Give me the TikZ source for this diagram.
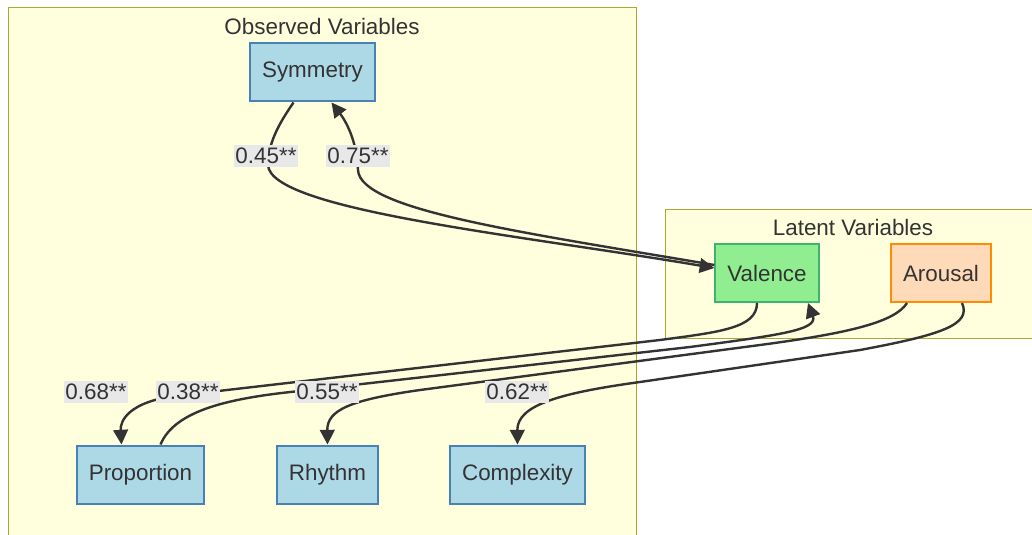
\documentclass[tikz,border=0pt]{standalone}
\usepackage{fontspec}
\setmainfont{Liberation Sans}
\usetikzlibrary{calc,arrows.meta}
\definecolor{ink}{HTML}{333333}
\definecolor{clusterfill}{HTML}{FFFFDE}
\definecolor{clusterline}{HTML}{AAAA33}
\definecolor{obsfill}{HTML}{ADD8E6}
\definecolor{obsline}{HTML}{4682B4}
\definecolor{valfill}{HTML}{90EE90}
\definecolor{valline}{HTML}{3CB371}
\definecolor{arofill}{HTML}{FFDAB9}
\definecolor{aroline}{HTML}{FF8C00}
\definecolor{labelfill}{HTML}{E8E8E8}
\begin{document}
\begin{tikzpicture}[
  x=0.75pt, y=-0.75pt,
  every node/.style={text=ink, font=\fontsize{16.8}{20}\selectfont},
  var/.style={draw, line width=1.5pt, inner xsep=9pt, minimum height=43.5pt},
  observed/.style={var, draw=obsline, fill=obsfill},
  cluster/.style={draw=clusterline, fill=clusterfill, line width=0.75pt},
  edge/.style={draw=ink, line width=1.8pt, -{Triangle[length=11pt,width=11pt]}},
  weight/.style={fill=labelfill, inner xsep=1pt, inner ysep=2pt}
  ]
\useasboundingbox (0,0) rectangle (1032,535);

% clusters
\path[cluster] (8,8) rectangle (636,545);
\node (obstitle) at (322,26) {Observed Variables};
\path[cluster] (665,209) rectangle (1045,338);
\node (lattitle) at (853,227) {Latent Variables};

% variables
\node[observed] (sym) at (312.5,72.5) {Symmetry};
\node[observed] (prop) at (140.5,474.5) {Proportion};
\node[observed] (rhy) at (327.5,474.5) {Rhythm};
\node[observed] (cplx) at (517.5,474.5) {Complexity};
\node[var, draw=valline, fill=valfill] (val) at (767,273) {Valence};
\node[var, draw=aroline, fill=arofill] (aro) at (941,273) {Arousal};

% paths
\draw[edge] ($(sym.south)+(-19,0)$) .. controls (283,118) and (268,140) .. (268,165)
  .. controls (270,210) and (520,235) .. ($(val.west)+(0,-5)$);
\draw[edge] ($(val.west)+(0,-8)$) .. controls (520,232) and (360,210) .. (358,170)
  .. controls (357,140) and (345,120) .. ($(sym.south)+(19,0)$);
\draw[edge] ($(val.south)+(-10,0)$) .. controls (757,328) and (720,332) .. (660,340)
  -- (175,396) .. controls (130,402) and (120,420) .. ($(prop.north)+(-19,0)$);
\draw[edge] ($(prop.north)+(20,0)$) .. controls (175,410) and (230,398) .. (300,391)
  -- (690,347) .. controls (780,335) and (818,330) .. ($(val.south)+(41,0)$);
\draw[edge] ($(aro.south)+(-34,0)$) .. controls (895,322) and (850,333) .. (760,345)
  -- (420,390) .. controls (350,400) and (327,410) .. (rhy.north);
\draw[edge] ($(aro.south)+(21,0)$) .. controls (972,325) and (940,335) .. (860,350)
  -- (640,382) .. controls (560,393) and (517,405) .. (cplx.north);

% path weights
\node[weight] (w45) at (266,156) {0.45**};
\node[weight] (w75) at (358,156) {0.75**};
\node[weight] (w68) at (96,392) {0.68**};
\node[weight] (w38) at (188,392) {0.38**};
\node[weight] (w55) at (327,392) {0.55**};
\node[weight] (w62) at (517,392) {0.62**};
\end{tikzpicture}
\end{document}
